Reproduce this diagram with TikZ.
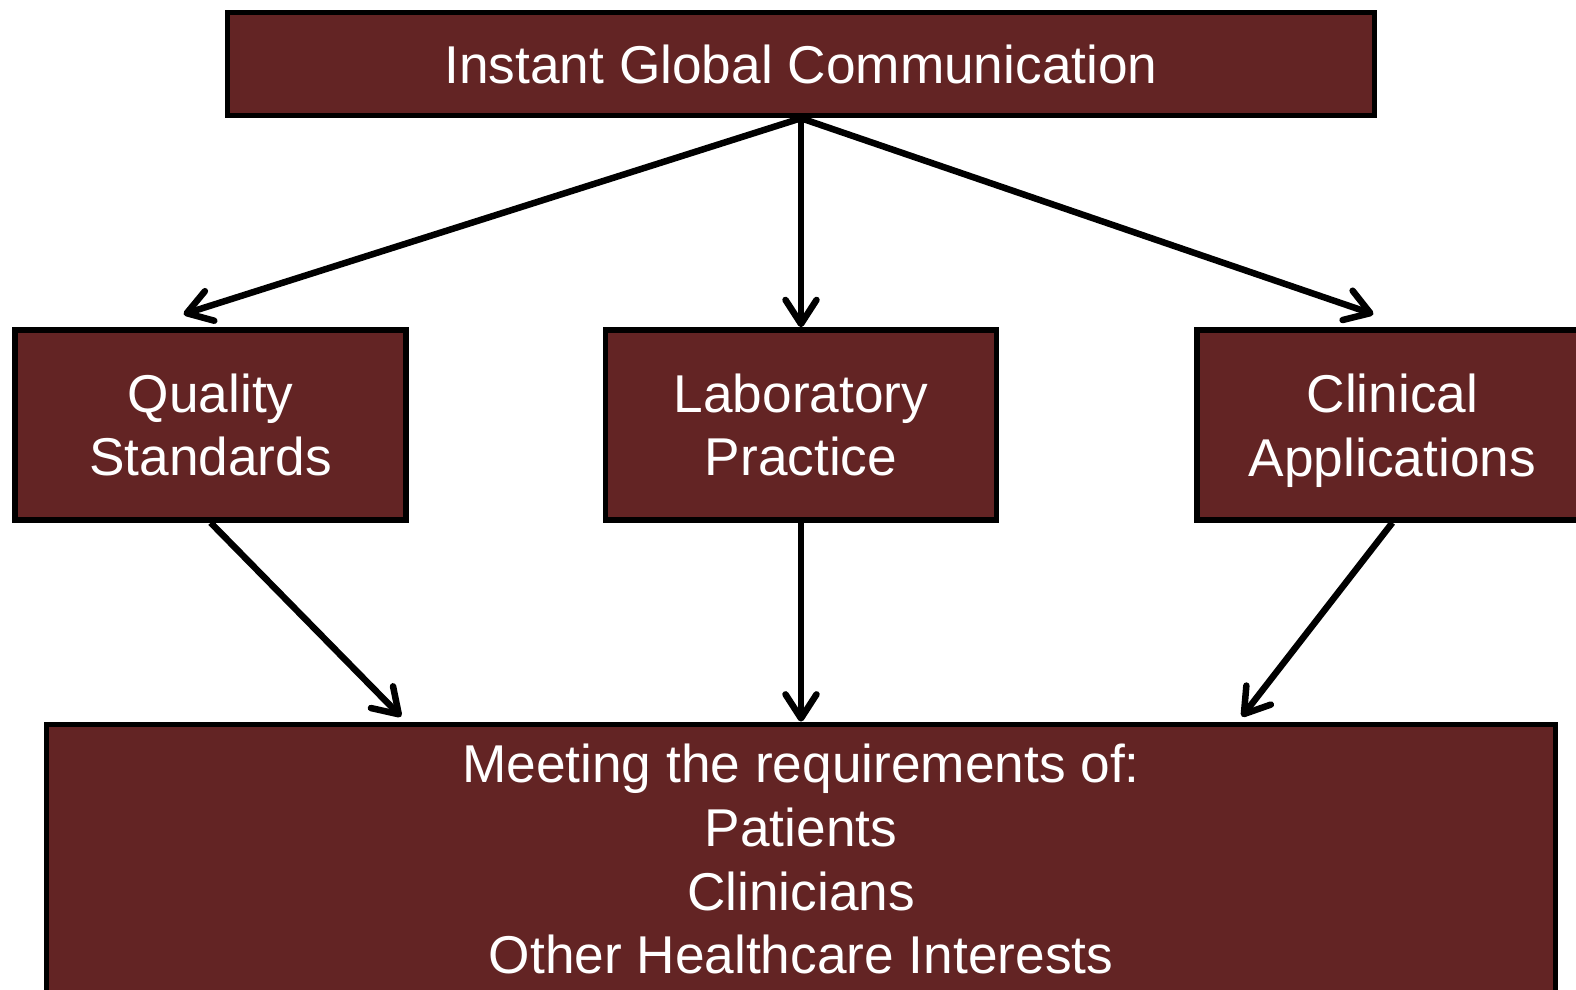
\documentclass[tikz,border=0pt]{standalone}
\usepackage{fontspec}
\setmainfont{Liberation Sans}
\usetikzlibrary{arrows.meta,positioning,calc}
\definecolor{boxred}{RGB}{99,36,36}
\tikzstyle{block}=[draw, fill=boxred, text=white, line width=0.11cm, align=center, font=\fontsize{30.3}{36.2}\selectfont]
\tikzstyle{smallblock}=[block, minimum width=7.82cm, minimum height=3.8cm]
\tikzstyle{arrow}=[line width=0.13cm,-{Straight Barb[length=0.48cm,width=0.62cm,round]}]

\begin{document}
\begin{tikzpicture}[x=0.02cm,y=-0.02cm]
\useasboundingbox (0,0) rectangle (1576,990);
\node (global) [block,minimum width=22.94cm,minimum height=2.06cm] at (801,64) {Instant Global Communication};
\node (lab) [smallblock,below=4.18cm of global] {Laboratory\\Practice};
\node (quality) [smallblock,left=3.88cm of lab] {Quality\\Standards};
\node (clinical) [smallblock,right=3.9cm of lab] {Clinical\\\smash{Applications}};
\node (needs) [block,below=3.98cm of lab,minimum width=30.18cm,minimum height=5.4cm] {Meeting the requirements of:\\Patients\\Clinicians\\Other Healthcare Interests};
\draw[arrow] (global.south)--([xshift=-0.54cm,yshift=0.26cm]quality.north);
\draw[arrow] (global.south)--(lab.north);
\draw[arrow] (global.south)--([xshift=-0.38cm,yshift=0.26cm]clinical.north);
\draw[arrow] (quality.south)--([xshift=-8cm,yshift=0.1cm]needs.north);
\draw[arrow] (lab.south)--(needs.north);
\draw[arrow] (clinical.south)--([xshift=8.82cm,yshift=0.1cm]needs.north);
\end{tikzpicture}
\end{document}
